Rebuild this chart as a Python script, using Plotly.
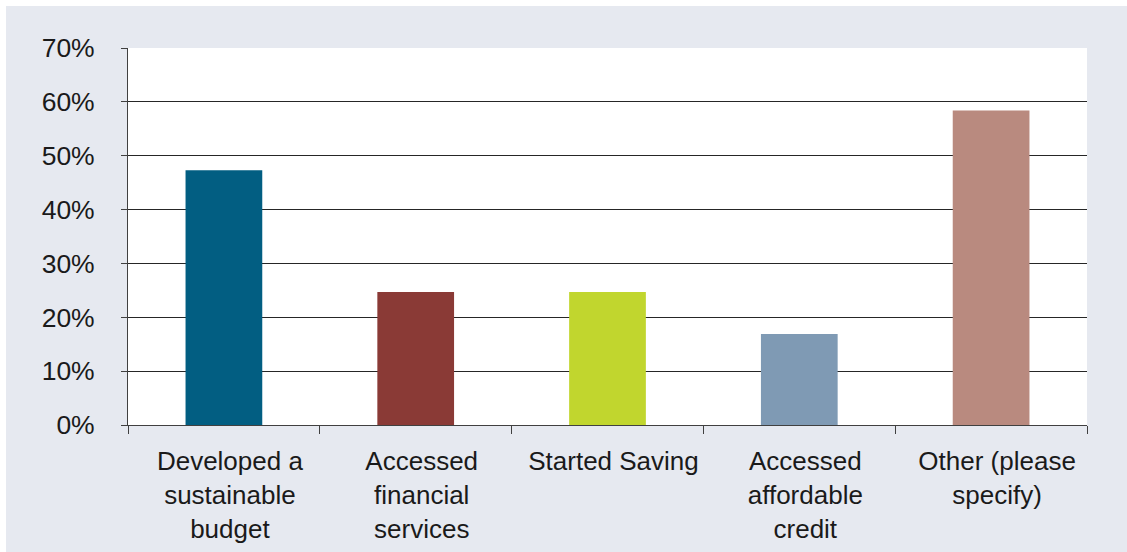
import plotly.graph_objects as go

# Survey outcomes: share of respondents per outcome
categories = [
    "Developed a<br>sustainable<br>budget",
    "Accessed<br>financial<br>services",
    "Started Saving",
    "Accessed<br>affordable<br>credit",
    "Other (please<br>specify)",
]
values = [47.3, 24.7, 24.7, 16.9, 58.4]
bar_colors = ["#025E82", "#8A3A36", "#C1D62E", "#7F9AB4", "#B98A7F"]
y_ticks = [0, 10, 20, 30, 40, 50, 60, 70]

W, H = 1127, 552
L, R, T, B = 128, 40, 48, 127

fig = go.Figure(
    go.Bar(
        x=categories,
        y=values,
        marker=dict(color=bar_colors, line=dict(width=0)),
        hoverinfo="x+y",
    )
)

# white strips framing the shaded panel at top and left
pw, ph = W - L - R, H - T - B
def px_x(p):
    return (p - L) / pw
def px_y(p):
    return (H - B - p) / ph

fig.add_shape(type="rect", xref="paper", yref="paper",
              x0=px_x(0), x1=px_x(W), y0=px_y(0), y1=px_y(6),
              fillcolor="white", line=dict(width=0), layer="above")
fig.add_shape(type="rect", xref="paper", yref="paper",
              x0=px_x(0), x1=px_x(6), y0=px_y(0), y1=px_y(H),
              fillcolor="white", line=dict(width=0), layer="above")

fig.update_layout(
    width=W,
    height=H,
    margin=dict(l=L, r=R, t=T, b=B, pad=0),
    paper_bgcolor="#E6E9F0",
    plot_bgcolor="white",
    bargap=0.6,
    showlegend=False,
    font=dict(family="Arial, Liberation Sans, sans-serif", size=26, color="#1A1A1A"),
)
fig.update_xaxes(
    type="category",
    automargin=False,
    showline=True,
    linecolor="#404040",
    linewidth=1,
    ticks="outside",
    tickson="boundaries",
    ticklen=8,
    tickcolor="#404040",
    tickfont=dict(size=26),
    ticklabelstandoff=13,
    ticklabelshift=6,
    showgrid=False,
)
fig.update_yaxes(
    range=[0, 70],
    automargin=False,
    tickvals=y_ticks,
    ticktext=[f"{v}%" for v in y_ticks],
    showline=True,
    linecolor="#404040",
    linewidth=1,
    ticks="outside",
    ticklen=6,
    tickcolor="#404040",
    tickfont=dict(size=26.5),
    ticklabelstandoff=21,
    showgrid=True,
    gridcolor="#262626",
    gridwidth=1,
    zeroline=False,
)

fig.write_html("out.html")
